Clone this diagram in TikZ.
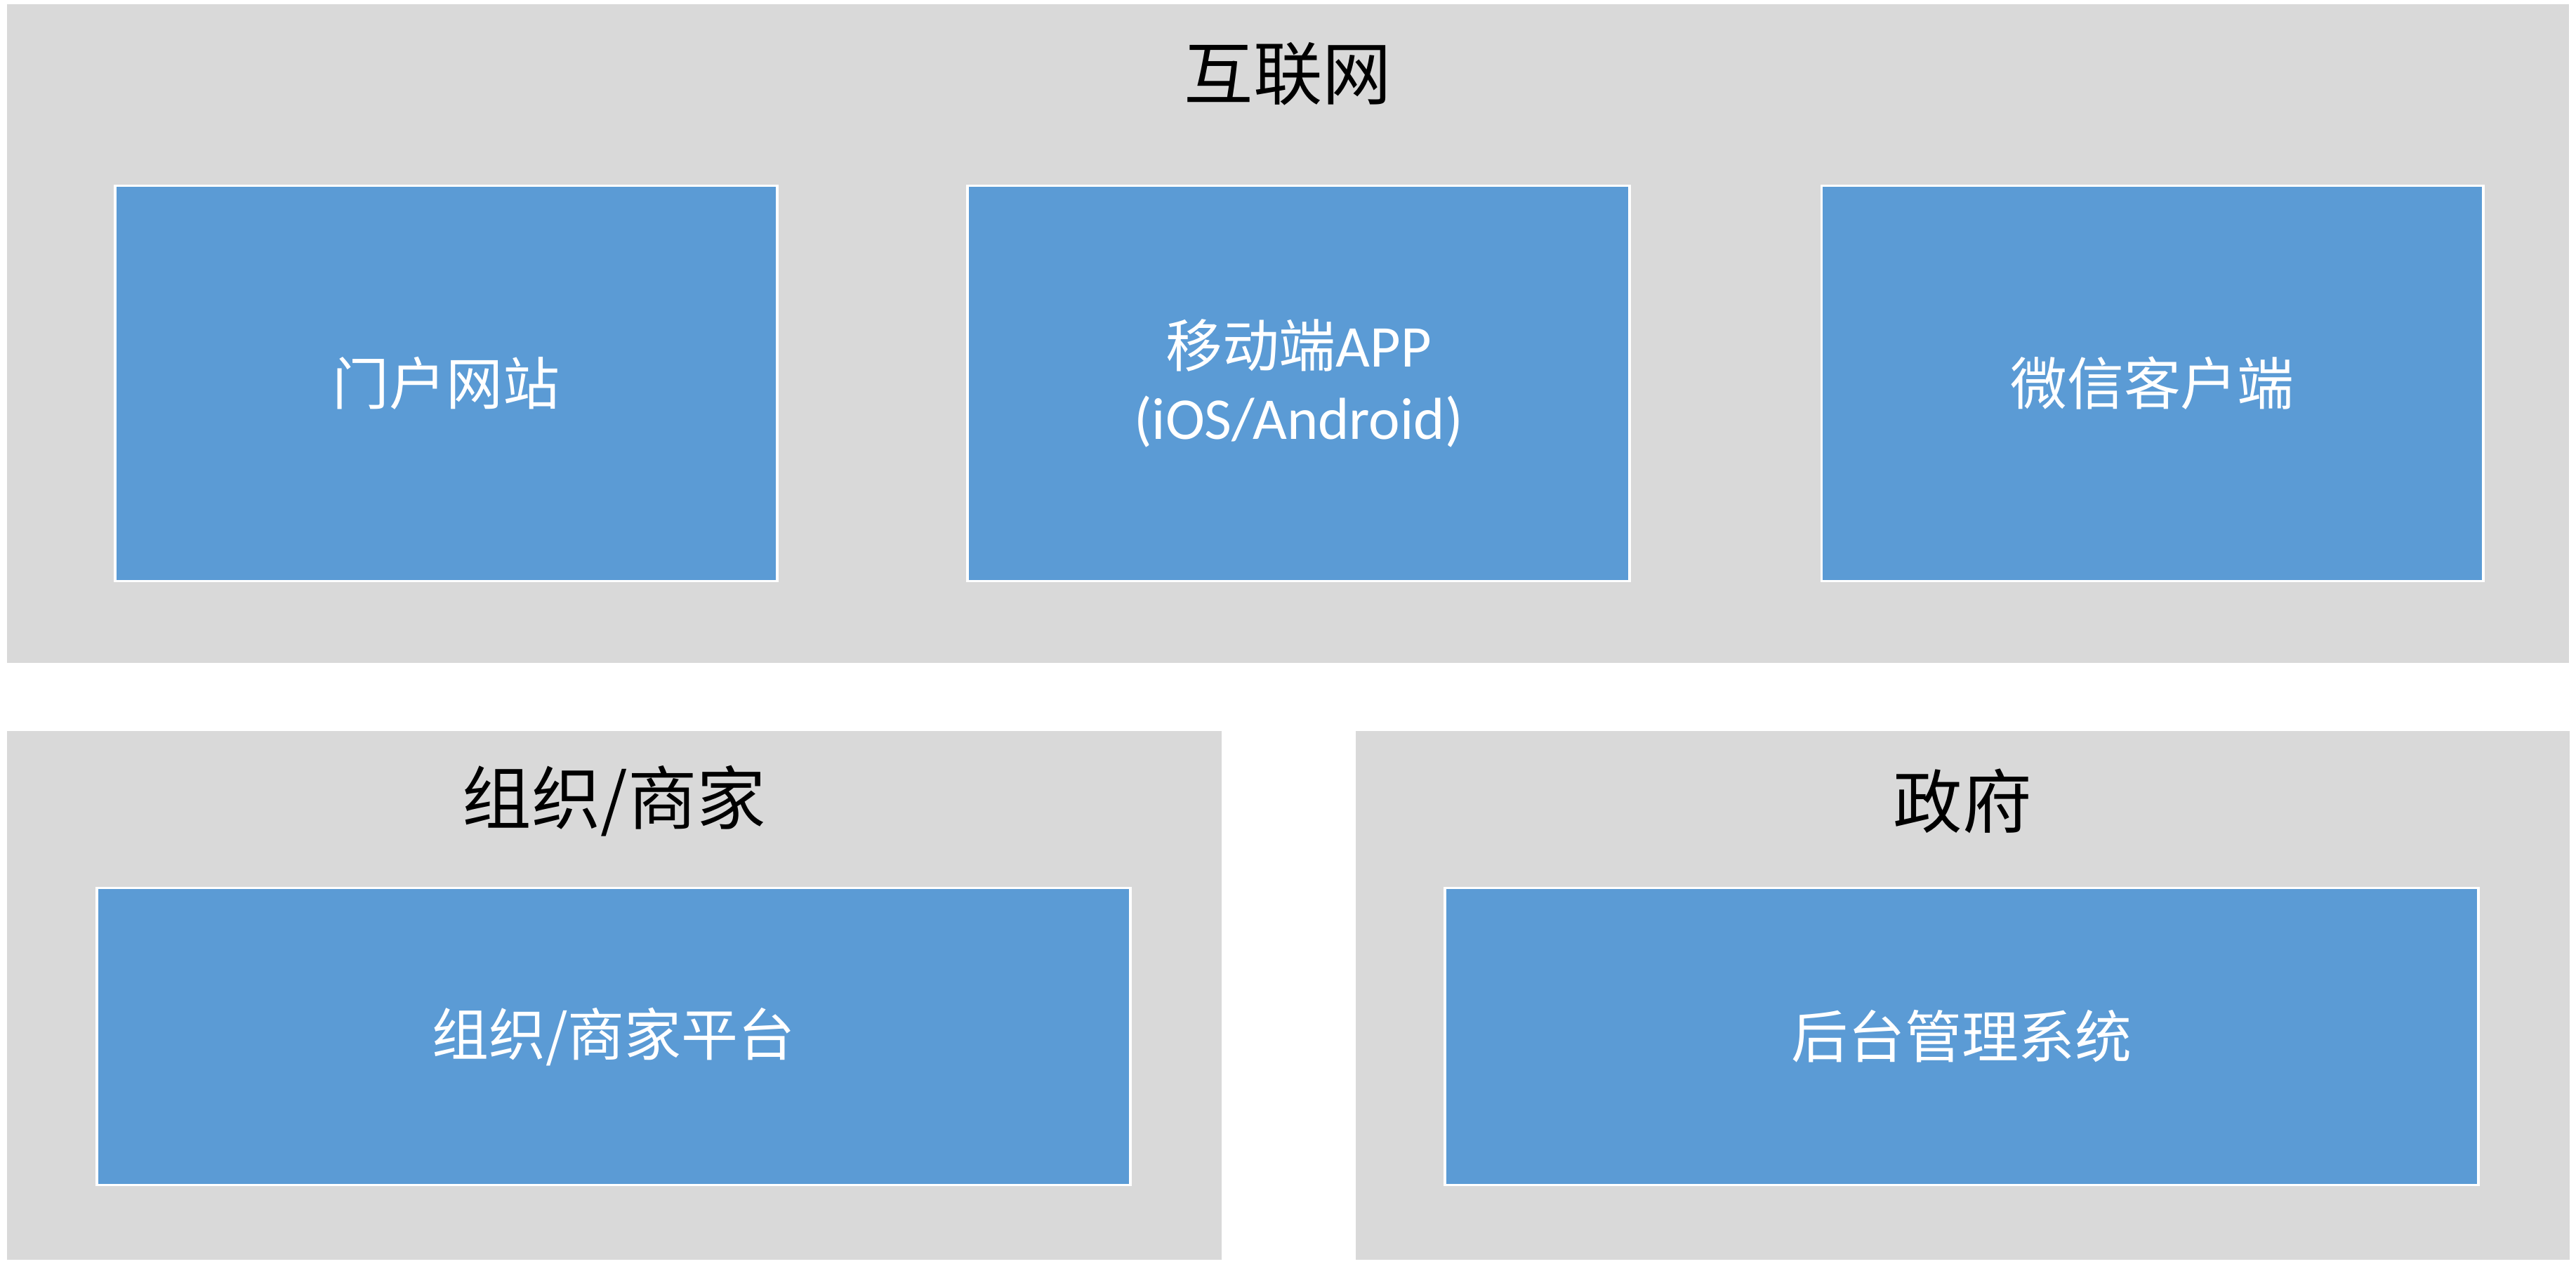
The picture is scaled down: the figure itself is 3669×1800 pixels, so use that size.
\documentclass[tikz,border=0pt]{standalone}
\usepackage{fontspec}
\setmainfont{Carlito}
\newfontfamily\cjk{Noto Sans CJK SC}
\definecolor{panelgray}{HTML}{D9D9D9}
\definecolor{boxblue}{HTML}{5B9BD5}
\tikzset{
  panel/.style={fill=panelgray, draw=none, inner sep=0pt, rectangle},
  bluebox/.style={fill=boxblue, draw=white, line width=0.035cm, inner sep=0pt, rectangle,
    text=white, font=\fontsize{23}{29}\selectfont\cjk, align=center},
  paneltitle/.style={inner sep=0pt, text=black, font=\fontsize{28}{33}\selectfont\cjk}
}
\begin{document}
\begin{tikzpicture}[x=0.01cm, y=-0.01cm]
\useasboundingbox (0,0) rectangle (3669,1800);
% panels
\node[panel, minimum width=36.47cm, minimum height=9.38cm] (net) at (1834.5,475) {};
\node[panel, minimum width=17.28cm, minimum height=7.53cm] (org) at (875,1417.5) {};
\node[panel, minimum width=17.28cm, minimum height=7.53cm] (gov) at (2795,1417.5) {};
% titles
\node[paneltitle] (nettitle) at (1834.5,105) {互联网};
\node[paneltitle] (orgtitle) at (875,1141) {组织/商家};
\node[paneltitle] (govtitle) at (2795,1141) {政府};
% top boxes
\node[bluebox, minimum width=9.42cm, minimum height=5.63cm] (portal) at (635.5,546) {门户网站};
\node[bluebox, minimum width=9.42cm, minimum height=5.63cm] (app) at (1849.5,546) {};
\node[text=white, align=center, inner sep=0pt, font=\fontsize{24}{29.5}\selectfont] (apptext) at (app.center) {{\cjk\fontsize{23}{29.5}\selectfont 移动端}APP\\(iOS/Android)};
\node[bluebox, minimum width=9.42cm, minimum height=5.63cm] (wechat) at (3065.5,546) {微信客户端};
% bottom boxes
\node[bluebox, minimum width=14.71cm, minimum height=4.23cm] (orgplat) at (874,1476) {组织/商家平台};
\node[bluebox, minimum width=14.71cm, minimum height=4.23cm] (admin) at (2794,1476) {后台管理系统};
\end{tikzpicture}
\end{document}
